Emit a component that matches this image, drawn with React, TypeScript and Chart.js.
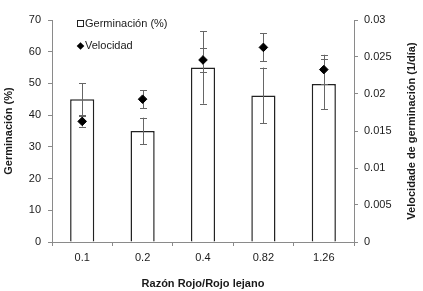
import React, { useEffect, useRef } from "react";
import { Chart, registerables } from "chart.js";

Chart.register(...registerables);

const categories = ["0.1", "0.2", "0.4", "0.82", "1.26"];
const germination = [45, 35, 55, 46.2, 49.8];
const germinationErr = [5, 4.2, 11.4, 8.8, 8];
const velocity = [0.0163, 0.0193, 0.0246, 0.0263, 0.0233];
const velocityErr = [0.0007, 0.0012, 0.0016, 0.0019, 0.002];
const leftTicks = [0, 10, 20, 30, 40, 50, 60, 70];
const rightTicks = [0, 0.005, 0.01, 0.015, 0.02, 0.025, 0.03];
const rightTitle = "Velocidade de germinación (1/día)";

const FONT = "'Liberation Sans', Arial, sans-serif";
const TEXT = "#1a1a1a";
const AXIS = "#8a8a8a";
const ERR = "#666666";

function drawErrors(chart: any, values: number[], errs: number[], axisId: string) {
  const ctx = chart.ctx;
  const x = chart.scales.x;
  const y = chart.scales[axisId];
  ctx.save();
  ctx.strokeStyle = ERR;
  ctx.lineWidth = 1;
  values.forEach((v, i) => {
    const px = Math.round(x.getPixelForValue(i)) + 0.5;
    const top = y.getPixelForValue(v + errs[i]);
    const bot = y.getPixelForValue(v - errs[i]);
    ctx.beginPath();
    ctx.moveTo(px, top);
    ctx.lineTo(px, bot);
    ctx.moveTo(px - 3.5, Math.round(top) + 0.5);
    ctx.lineTo(px + 3.5, Math.round(top) + 0.5);
    ctx.moveTo(px - 3.5, Math.round(bot) + 0.5);
    ctx.lineTo(px + 3.5, Math.round(bot) + 0.5);
    ctx.stroke();
  });
  ctx.restore();
}

const errorPlugin = {
  id: "errorBars",
  afterDatasetDraw(chart: any, args: any) {
    if (args.index === 0) drawErrors(chart, germination, germinationErr, "y");
  },
  beforeDatasetDraw(chart: any, args: any) {
    if (args.index === 1) drawErrors(chart, velocity, velocityErr, "y1");
  },
};

const legendPlugin = {
  id: "customLegend",
  afterDraw(chart: any) {
    const ctx = chart.ctx;
    ctx.save();
    ctx.font = `11px ${FONT}`;
    ctx.textBaseline = "middle";
    ctx.textAlign = "left";
    // square
    ctx.fillStyle = "#ffffff";
    ctx.fillRect(77.5, 20.5, 6, 6);
    ctx.strokeStyle = "#222";
    ctx.lineWidth = 1;
    ctx.strokeRect(77.5, 20.5, 6, 6);
    ctx.fillStyle = TEXT;
    ctx.fillText("Germinación (%)", 85, 24);
    // diamond
    ctx.beginPath();
    const cx = 80.5, cy = 46, r = 3.8;
    ctx.moveTo(cx - r, cy);
    ctx.lineTo(cx, cy - r);
    ctx.lineTo(cx + r, cy);
    ctx.lineTo(cx, cy + r);
    ctx.closePath();
    ctx.fillStyle = "#000";
    ctx.fill();
    ctx.fillStyle = TEXT;
    ctx.fillText("Velocidad", 85, 46);

    // right axis title, reading bottom to top
    const area = chart.chartArea;
    ctx.translate(412, (area.top + area.bottom) / 2);
    ctx.rotate(-Math.PI / 2);
    ctx.font = `bold 11px ${FONT}`;
    ctx.textAlign = "center";
    ctx.fillText(rightTitle, 0, 0);
    ctx.restore();
  },
};

export default function App() {
  const ref = useRef<HTMLCanvasElement | null>(null);
  useEffect(() => {
    if (!ref.current) return;
    const tickFont = { family: FONT, size: 11 };
    const titleFont = { family: FONT, size: 11, weight: "bold" as const };
    const chart = new Chart(ref.current, {
      type: "bar",
      data: {
        labels: categories,
        datasets: [
          {
            type: "bar",
            label: "Germinación (%)",
            data: germination,
            backgroundColor: "#ffffff",
            borderColor: "#222222",
            borderWidth: 1.5,
            barPercentage: 0.4,
            categoryPercentage: 1,
            yAxisID: "y",
            order: 1,
          } as any,
          {
            type: "line",
            label: "Velocidad",
            data: velocity,
            showLine: false,
            pointStyle: "rectRot",
            pointRadius: 4.3,
            pointBackgroundColor: "#000",
            pointBorderColor: "#000",
            pointBorderWidth: 1,
            yAxisID: "y1",
            order: 0,
          } as any,
        ],
      },
      options: {
        animation: false,
        responsive: false,
        maintainAspectRatio: false,
        layout: { padding: { top: 20, left: 0, right: 0, bottom: 0 } },
        plugins: { legend: { display: false }, tooltip: { enabled: false } },
        scales: {
          x: {
            offset: true,
            grid: {
              offset: true,
              drawOnChartArea: false,
              tickLength: 4,
              color: AXIS,
            },
            border: { color: AXIS, width: 1 },
            ticks: { font: tickFont, color: TEXT, padding: 5 },
            title: {
              display: true,
              text: "Razón Rojo/Rojo lejano",
              font: titleFont,
              color: TEXT,
              padding: { top: 4, bottom: 0 },
            },
            afterFit: (s: any) => {
              s.height = 49;
            },
          },
          y: {
            position: "left",
            min: 0,
            max: 70,
            afterBuildTicks: (s: any) => {
              s.ticks = leftTicks.map((v) => ({ value: v }));
            },
            grid: { drawOnChartArea: false, tickLength: 4, color: AXIS },
            border: { color: AXIS, width: 1 },
            ticks: { font: tickFont, color: TEXT, padding: 7 },
            title: {
              display: true,
              text: "Germinación (%)",
              font: titleFont,
              color: TEXT,
              padding: { top: 2, bottom: 0 },
            },
            afterFit: (s: any) => {
              s.width = 52;
            },
          },
          y1: {
            position: "right",
            min: 0,
            max: 0.03,
            afterBuildTicks: (s: any) => {
              s.ticks = rightTicks.map((v) => ({ value: v }));
            },
            grid: { drawOnChartArea: false, tickLength: 4, color: AXIS },
            border: { color: AXIS, width: 1 },
            ticks: {
              font: tickFont,
              color: TEXT,
              padding: 6,
              callback: (v: any) => String(Number(Number(v).toFixed(4))),
            },
            title: { display: false },
            afterFit: (s: any) => {
              s.width = 69;
            },
          },
        },
      },
      plugins: [errorPlugin, legendPlugin],
    });
    return () => chart.destroy();
  }, []);
  return (
    <div style={{ position: "fixed", left: 0, top: 0, width: 423, height: 291, background: "#fff" }}>
      <canvas ref={ref} width={423} height={291} style={{ display: "block" }} />
    </div>
  );
}
